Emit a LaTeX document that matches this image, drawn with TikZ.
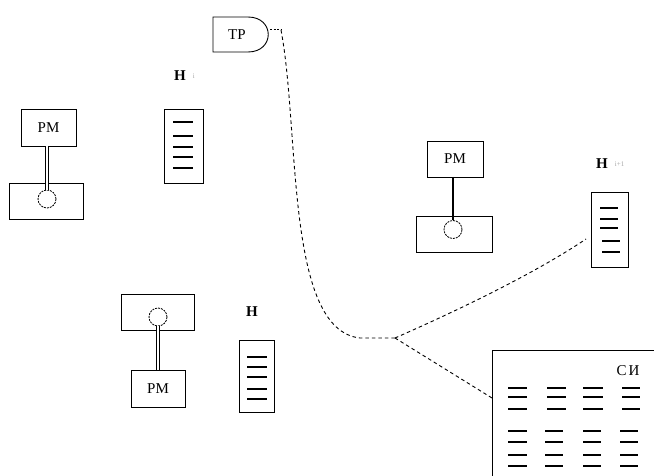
\documentclass[tikz,border=0pt]{standalone}
\usepackage{fontspec}
\setmainfont{Liberation Serif}
\begin{document}
\begin{tikzpicture}[x=1pt,y=-1pt,
  box/.style={draw,line width=0.9pt,rectangle,inner sep=0pt},
  lbl/.style={font=\fontsize{15}{15}\selectfont},
  hlbl/.style={font=\fontsize{15}{15}\selectfont\bfseries},
  sub/.style={font=\fontsize{7}{7}\selectfont,text=black!35},
  stk/.style={line width=1.3pt},
  wheel/.style={draw,circle,line width=0.8pt,dash pattern=on 2pt off 1pt,minimum size=18pt,inner sep=0pt},
  dbl/.style={double,double distance=2pt,line width=1pt},
  thk/.style={line width=2.6pt},
  conn/.style={line width=0.9pt,dash pattern=on 3.5pt off 3pt}]
\useasboundingbox (0,0) rectangle (654,476);

% TP
\draw[line width=0.9pt] (248,17) -- (213,17) -- (213,52) -- (248,52)
  .. controls (275,52) and (275,17) .. (248,17);
\node[lbl] (tp) at (237,35) {ТР};
\coordinate (tpR) at (270,30);
\coordinate (tpD) at (281,30);

% left workstation
\node[box,lbl,minimum width=55pt,minimum height=37pt] (pm1) at (48.5,127.5) {РМ};
\node[box,minimum width=74pt,minimum height=36pt] (b1) at (46,201) {};
\node[wheel] (w1) at (47,199) {};
\coordinate (pm1b) at (47,146);
\coordinate (w1t) at (47,190);
\draw[dbl] (pm1b) -- (w1t);

% H_i
\node[hlbl] (hil) at (180,76) {Н};
\node[sub,anchor=west] at (hil.east) {i};
\node[box,minimum width=39pt,minimum height=74pt] (hi) at (183.5,146) {};
\foreach \y in {122,136,147,157,168} \draw[stk] (173,\y) -- (193,\y);

% right workstation
\node[box,lbl,minimum width=56pt,minimum height=36pt] (pm2) at (455,159) {РМ};
\node[box,minimum width=76pt,minimum height=36pt] (b2) at (454,234) {};
\node[wheel] (w2) at (453,229.5) {};
\coordinate (pm2b) at (453,177);
\coordinate (w2t) at (453,220.5);
\draw[thk] (pm2b) -- (w2t);

% H_{i+1}
\node[hlbl] (hi1l) at (602,164) {Н};
\node[sub,anchor=west] at (hi1l.east) {i+1};
\node[box,minimum width=37pt,minimum height=75pt] (hi1) at (609.5,229.5) {};
\foreach \y in {208,219,228} \draw[stk] (600,\y) -- (618,\y);
\foreach \y in {241,252} \draw[stk] (602,\y) -- (620,\y);

% bottom workstation
\node[box,minimum width=73pt,minimum height=36pt] (b3) at (157.5,312) {};
\node[wheel] (w3) at (158,317) {};
\node[box,lbl,minimum width=54pt,minimum height=37pt] (pm3) at (158,388.5) {РМ};
\coordinate (w3b) at (158,326);
\coordinate (pm3t) at (158,370);
\draw[dbl] (w3b) -- (pm3t);

% H
\node[hlbl] (hl) at (252,312) {Н};
\node[box,minimum width=35pt,minimum height=72pt] (h) at (256.5,376) {};
\foreach \y in {357,367,377} \draw[stk] (247,\y) -- (267,\y);
\foreach \y in {389,399} \draw[stk] (247,\y) -- (267,\y);

% SI
\draw[line width=0.9pt] (660,350) -- (492,350) -- (492,480);
\coordinate (si) at (492,398);
\node[lbl] (sil) at (628,371) {С\kern2ptИ};
\foreach \x/\w in {508/19,547/19,583/20,622/18}
  \foreach \y in {388,397,409} \draw[stk] (\x,\y) -- ++(\w,0);
\foreach \x/\w in {508/19,545/18,583/18,620/18}
  \foreach \y in {431,442,455,466} \draw[stk] (\x,\y) -- ++(\w,0);

% network
\coordinate (j) at (395,338);
\coordinate (e1) at (586,239);
\draw[line width=1pt,dash pattern=on 2pt off 1.5pt] (tpR) -- (tpD);
\draw[conn] (tpD) .. controls (300,130) and (285,330) .. (360,338) -- (j);
\draw[conn] (j) .. controls (470,305) and (540,270) .. (e1);
\draw[conn] (j) -- (si);
\end{tikzpicture}
\end{document}
